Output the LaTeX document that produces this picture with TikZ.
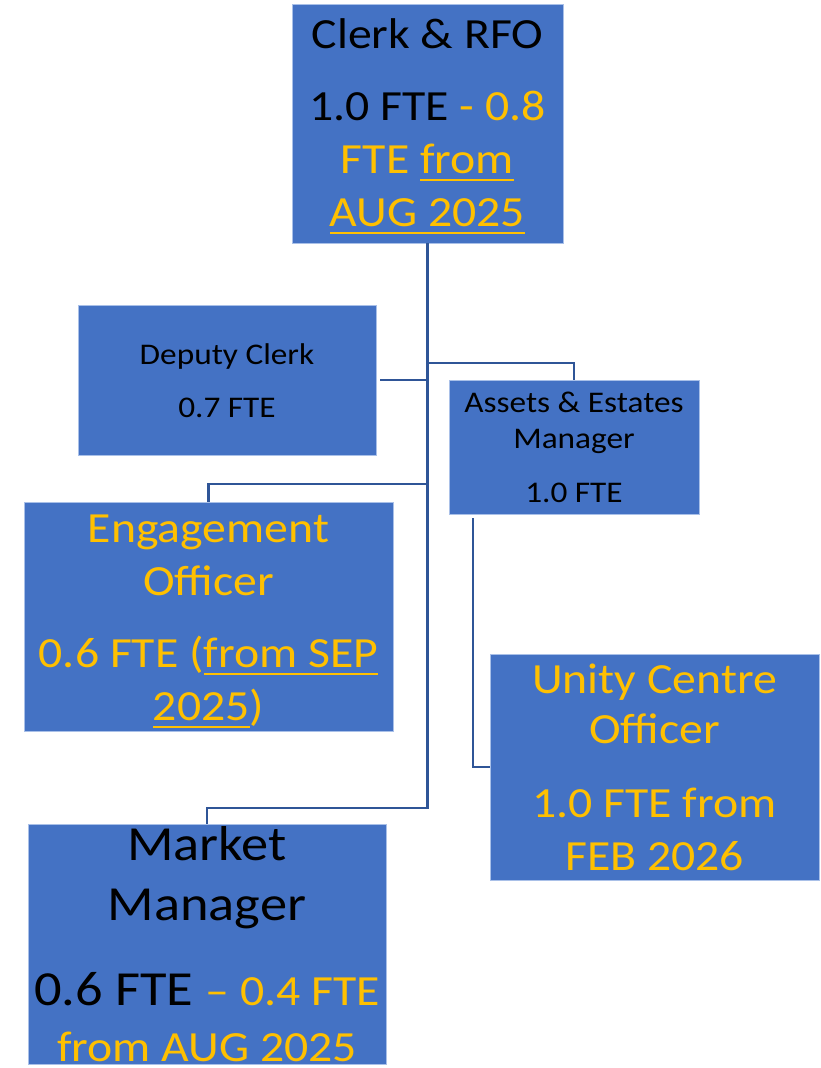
\documentclass[tikz,border=0pt]{standalone}
\usepackage{fontspec}
\setmainfont{Carlito}[FakeStretch=1.11]
\usetikzlibrary{fit}
\definecolor{boxblue}{HTML}{4472C4}
\definecolor{boxedge}{HTML}{A9C0E8}
\definecolor{connblue}{HTML}{2F5597}
\definecolor{gold}{HTML}{FFC000}
\newcommand{\fsA}{\fontsize{32.25pt}{38pt}\selectfont}
\newcommand{\fsB}{\fontsize{22.5pt}{27pt}\selectfont}
\newcommand{\fsC}{\fontsize{36.75pt}{44pt}\selectfont}
\newsavebox{\ulbox}
\newcommand{\ulx}[1]{\sbox{\ulbox}{#1}\rlap{\rule[-6pt]{\wd\ulbox}{1.5pt}}\usebox{\ulbox}}
\begin{document}
\begin{tikzpicture}[x=0.75pt,y=-0.75pt,
  box/.style={fill=boxblue,draw=boxedge,line width=0.6pt,inner sep=0pt},
  conn/.style={draw=connblue,line width=1.7pt},
  txt/.style={anchor=base,inner sep=0pt,text=black}]
\useasboundingbox (0,0) rectangle (821,1068);

% boxes
\node[box,fit={(292,4)(563,243)}] (clerk) {};
\node[box,fit={(78,305)(376,455)}] (deputy) {};
\node[box,fit={(449,380)(699,514)}] (assets) {};
\node[box,fit={(24,502)(393,731)}] (engage) {};
\node[box,fit={(490,654)(819,880)}] (unity) {};
\node[box,fit={(28,824)(386,1064)}] (market) {};

% junctions
\coordinate (jAss) at (427.5,363);
\coordinate (jDep) at (427.5,380);
\coordinate (jEng) at (427.5,484);
\coordinate (jMkt) at (427.5,808);
\coordinate (aOut) at (473,518);

% connectors
\draw[conn] (clerk.south) -- (jMkt) -| (market.north);
\draw[conn] (jAss) -| (assets.north);
\draw[conn] (jDep) -- ([xshift=3pt]deputy.east);
\draw[conn] (jEng) -| (engage.north);
\draw[conn] (aOut) |- (unity.west);

% Clerk text
\node[txt] (c1) at (427.5,48) {\fsA Clerk \& RFO};
\node[txt] (c2) at (427.5,120) {\fsA 1.0 FTE {\color{gold}- 0.8}};
\node[txt] (c3) at (427.5,173) {\fsA\color{gold}FTE \ulx{from}};
\node[txt] (c4) at (427.5,226) {\fsA\color{gold}\ulx{AUG 2025}};

% Deputy text
\node[txt] (d1) at (227,364) {\fsB Deputy Clerk};
\node[txt] (d2) at (227,417) {\fsB 0.7 FTE};

% Assets text
\node[txt] (a1) at (574,412) {\fsB Assets \& Estates};
\node[txt] (a2) at (574,448) {\fsB Manager};
\node[txt] (a3) at (574,502) {\fsB 1.0 FTE};

% Engagement text
\node[txt] (e1) at (208.5,542) {\fsA\color{gold}Engagement};
\node[txt] (e2) at (208.5,595) {\fsA\color{gold}Officer};
\node[txt] (e3) at (208.5,667) {\fsA\color{gold}0.6 FTE (\ulx{from SEP}};
\node[txt] (e4) at (208.5,720) {\fsA\color{gold}\ulx{2025})};

% Unity text
\node[txt] (u1) at (654.5,693) {\fsA\color{gold}Unity Centre};
\node[txt] (u2) at (654.5,743) {\fsA\color{gold}Officer};
\node[txt] (u3) at (654.5,817) {\fsA\color{gold}1.0 FTE from};
\node[txt] (u4) at (654.5,870) {\fsA\color{gold}FEB 2026};

% Market text
\node[txt] (m1) at (207,860) {\fsC Market};
\node[txt] (m2) at (207,920) {\fsC Manager};
\node[txt] (m3) at (207,1005) {\fsC 0.6 FTE {\fsA\color{gold}– 0.4 FTE}};
\node[txt] (m4) at (207,1061) {\fsA\color{gold}from AUG 2025};
\end{tikzpicture}
\end{document}
